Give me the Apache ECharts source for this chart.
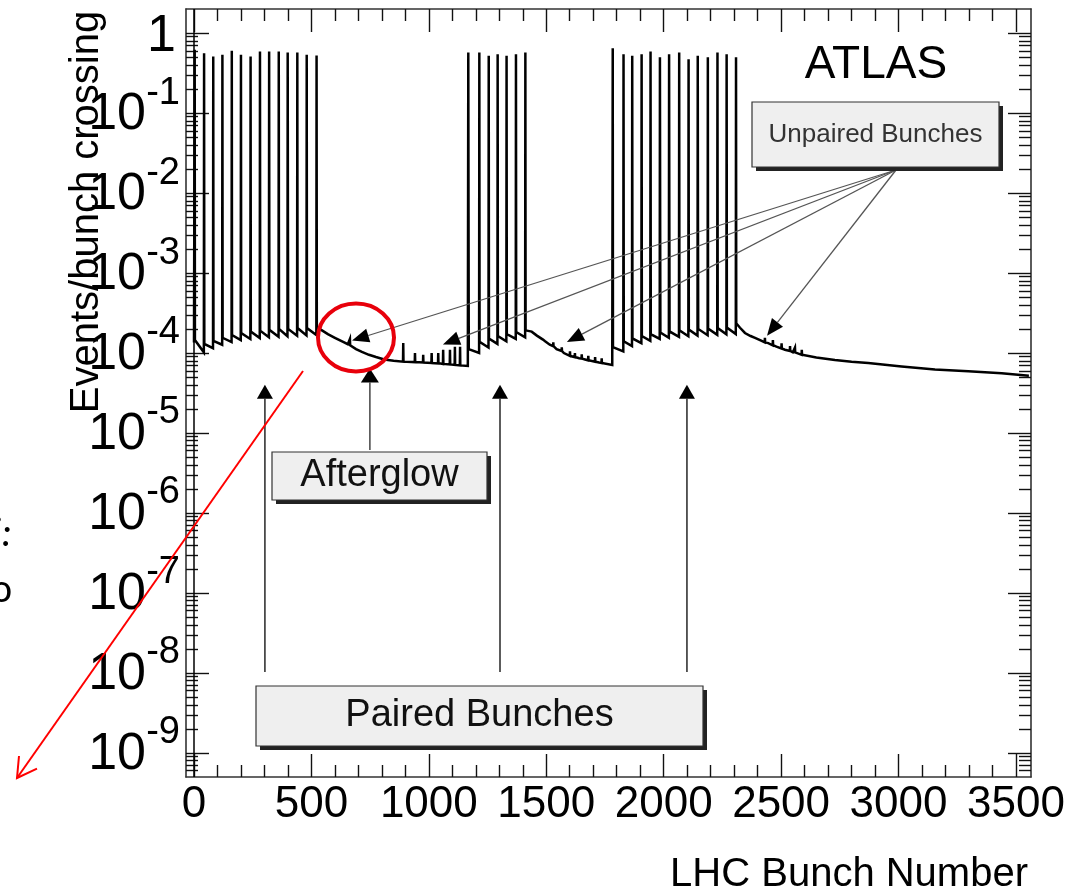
<!DOCTYPE html>
<html>
<head>
<meta charset="utf-8">
<script src="https://cdn.jsdelivr.net/npm/echarts@6/dist/echarts.min.js"></script>
<style>
  html, body { margin: 0; padding: 0; background: #fff; }
  #chart { width: 1073px; height: 896px; }
</style>
</head>
<body>
<div id="chart"></div>
<script>
// ---- axis ranges and tick labels ----
const xMin = -34, xMax = 3564;           // LHC bunch number
const yMin = 5e-10, yMax = 2;            // events per bunch crossing (log)
const xLabelValues = [0, 500, 1000, 1500, 2000, 2500, 3000, 3500];
const yLabelExponents = [-9, -8, -7, -6, -5, -4, -3, -2, -1, 0];

// ---- paired (colliding) bunches: [bunch, bin before, peak, bin after, next-bin shoulder] ----
const pairedTrain1 = [
  [3, 1.35e-4, 0.62, 1.45e-4],
  [43, 1.02e-4, 0.56, 1.30e-4],
  [82, 1.15e-4, 0.51, 1.42e-4],
  [121, 1.27e-4, 0.535, 1.55e-4],
  [161, 1.37e-4, 0.60, 1.68e-4],
  [200, 1.45e-4, 0.535, 1.78e-4],
  [241, 1.50e-4, 0.51, 1.85e-4],
  [281, 1.54e-4, 0.59, 1.90e-4],
  [320, 1.57e-4, 0.59, 1.95e-4],
  [361, 1.60e-4, 0.59, 2.00e-4],
  [399, 1.62e-4, 0.57, 2.00e-4, 5.1e-3],
  [440, 1.64e-4, 0.57, 2.05e-4],
  [480, 1.66e-4, 0.535, 2.05e-4],
  [522, 1.68e-4, 0.525, 2.10e-4]
];
const pairedTrain2 = [
  [1168, 6.8e-5, 0.57, 1.12e-4, 5.6e-3],
  [1215, 1.00e-4, 0.57, 1.38e-4],
  [1255, 1.17e-4, 0.52, 1.52e-4],
  [1293, 1.30e-4, 0.545, 1.63e-4],
  [1331, 1.40e-4, 0.52, 1.73e-4],
  [1371, 1.50e-4, 0.545, 1.83e-4],
  [1411, 1.57e-4, 0.57, 1.92e-4]
];
const pairedTrain3 = [
  [1783, 7.1e-5, 0.645, 1.18e-4],
  [1829, 1.05e-4, 0.545, 1.40e-4],
  [1866, 1.22e-4, 0.52, 1.52e-4],
  [1906, 1.33e-4, 0.545, 1.63e-4],
  [1944, 1.42e-4, 0.59, 1.72e-4],
  [1984, 1.50e-4, 0.50, 1.80e-4, 4.4e-3],
  [2023, 1.55e-4, 0.545, 1.86e-4, 5.0e-3],
  [2066, 1.59e-4, 0.57, 1.92e-4],
  [2106, 1.62e-4, 0.47, 1.96e-4],
  [2145, 1.65e-4, 0.52, 2.00e-4, 4.9e-3],
  [2188, 1.67e-4, 0.50, 2.02e-4],
  [2229, 1.69e-4, 0.57, 2.05e-4],
  [2268, 1.71e-4, 0.545, 2.08e-4],
  [2308, 1.73e-4, 0.50, 2.35e-4]
];

// ---- unpaired bunches: [bunch, afterglow level, peak] ----
const unpairedGap1 = [
  [664, 1.25e-4, 1.50e-4],
  [891, 7.8e-5, 1.33e-4],
  [941, 7.7e-5, 1.00e-4],
  [976, 7.6e-5, 9.5e-5],
  [1012, 7.5e-5, 1.00e-4],
  [1040, 7.4e-5, 1.00e-4],
  [1061, 7.3e-5, 1.10e-4],
  [1090, 7.2e-5, 1.10e-4],
  [1111, 7.1e-5, 1.20e-4],
  [1133, 7.0e-5, 1.20e-4]
];
const unpairedGap2 = [
  [1494, 1.40e-4, 1.55e-4],
  [1530, 1.22e-4, 1.36e-4],
  [1566, 1.06e-4, 1.18e-4],
  [1601, 9.2e-5, 1.05e-4],
  [1622, 8.9e-5, 1.00e-4],
  [1651, 8.5e-5, 9.6e-5],
  [1679, 8.1e-5, 9.2e-5],
  [1708, 7.8e-5, 8.9e-5],
  [1736, 7.5e-5, 8.6e-5]
];
const unpairedTail = [
  [2431, 1.36e-4, 1.55e-4],
  [2465, 1.25e-4, 1.45e-4],
  [2502, 1.14e-4, 1.32e-4],
  [2538, 1.06e-4, 1.22e-4],
  [2559, 1.02e-4, 1.17e-4],
  [2588, 9.5e-5, 1.10e-4]
];

// ---- afterglow level between trains: [bunch, events/BC] ----
const afterglowStart = [[0, 1.35e-4]];
const afterglowGap1 = [
  [545, 1.92e-4], [570, 1.72e-4], [600, 1.55e-4], [635, 1.38e-4], [655, 1.29e-4],
  [690, 1.12e-4], [715, 1.03e-4], [745, 9.5e-5], [775, 8.9e-5], [810, 8.3e-5],
  [850, 8.0e-5], [950, 7.7e-5], [1050, 7.4e-5], [1166, 6.9e-5]
];
const afterglowGap2 = [
  [1438, 1.85e-4], [1460, 1.65e-4], [1486, 1.47e-4], [1515, 1.27e-4], [1544, 1.12e-4],
  [1575, 1.00e-4], [1610, 9.1e-5], [1640, 8.6e-5], [1665, 8.3e-5], [1725, 7.6e-5],
  [1781, 7.1e-5]
];
const afterglowTail = [
  [2325, 2.07e-4], [2346, 1.78e-4], [2370, 1.63e-4], [2389, 1.55e-4], [2415, 1.43e-4],
  [2445, 1.33e-4], [2480, 1.20e-4], [2516, 1.10e-4], [2550, 1.02e-4], [2595, 9.4e-5],
  [2650, 8.8e-5], [2729, 8.2e-5], [2800, 7.8e-5], [2871, 7.5e-5], [3013, 6.8e-5],
  [3155, 6.2e-5], [3297, 5.9e-5], [3439, 5.6e-5], [3555, 5.2e-5]
];

// ---- annotation targets (data coordinates) ----
const unpairedArrowTips = [[673, 1.43e-4], [1060, 1.28e-4], [1588, 1.37e-4], [2440, 1.64e-4]];
const pairedArrowTips = [[302, 4.0e-5], [1303, 4.0e-5], [2099, 4.0e-5]];
const afterglowArrowTip = [749, 6.4e-5];

// ---- assemble the per-bunch histogram outline ----
function histogramPoints() {
  const pts = [];
  const addPaired = list => list.forEach(([b, before, peak, after, shoulder]) => {
    pts.push([b - 1, before], [b, peak]);
    if (shoulder) pts.push([b + 1, shoulder], [b + 2, after]);
    else pts.push([b + 1, after]);
  });
  const addUnpaired = list => list.forEach(([b, base, peak]) => {
    pts.push([b - 1, base], [b, peak], [b + 1, base]);
  });
  addPaired(pairedTrain1); addPaired(pairedTrain2); addPaired(pairedTrain3);
  addUnpaired(unpairedGap1); addUnpaired(unpairedGap2); addUnpaired(unpairedTail);
  [afterglowStart, afterglowGap1, afterglowGap2, afterglowTail].forEach(l => l.forEach(p => pts.push(p)));
  return pts.sort((a, b) => a[0] - b[0]);
}

const FONT = 'Liberation Sans, Arial, Helvetica, sans-serif';
const xMinorTicks = [];
for (let v = 100; v < xMax; v += 100) if (v % 500 !== 0) xMinorTicks.push(v);
const yMajorTicks = yLabelExponents.map(e => Math.pow(10, e));
const yMinorTicks = [];
for (let e = -10; e <= 0; e++) for (let k = 2; k <= 9; k++) {
  const v = k * Math.pow(10, e);
  if (v > yMin && v < yMax) yMinorTicks.push(v);
}
const expOf = v => Math.round(Math.log10(v));

const tickStyle = { color: '#111', width: 1.4 };
const frameLine = { show: true, onZero: false, lineStyle: { color: '#333', width: 1.6 } };
const hiddenLine = { show: false, onZero: false };
const noLabel = { show: false };
const plotRect = { left: 186, right: 42, top: 9, bottom: 119, containLabel: false };

// decade labels: mantissa "10" (and "1") on one axis, the exponent on a twin axis
const mantissaLabels = {
  customValues: yMajorTicks, margin: 6,
  formatter: v => expOf(v) === 0 ? '{one|1}' : '{b|10}',
  rich: {
    one: { fontSize: 52, fontFamily: FONT, color: '#000', lineHeight: 52, padding: [8, 4, 0, 0] },
    b: { fontSize: 52, fontFamily: FONT, color: '#000', lineHeight: 52, padding: [4, 34, 0, 0] }
  }
};
const exponentLabels = {
  customValues: yMajorTicks.filter(v => expOf(v) !== 0), margin: 6,
  formatter: v => '{s|' + expOf(v) + '}',
  rich: {
    s: { fontSize: 38, fontFamily: FONT, color: '#000', lineHeight: 38, padding: [0, 0, 40, 0] }
  }
};

function xAxis(gridIndex, position, ticks, len, withLabels, withLine) {
  return {
    type: 'value', gridIndex, min: xMin, max: xMax, position,
    axisLine: withLine ? frameLine : hiddenLine,
    axisTick: { show: true, inside: true, length: len, customValues: ticks, lineStyle: tickStyle },
    axisLabel: withLabels ? {
      customValues: xLabelValues, fontSize: 44, color: '#000', fontFamily: FONT, margin: 6,
      formatter: v => String(v)
    } : noLabel,
    splitLine: { show: false }
  };
}
function yAxis(gridIndex, position, ticks, len, labels, withLine) {
  return {
    type: 'log', gridIndex, logBase: 10, min: yMin, max: yMax, position,
    axisLine: withLine ? frameLine : hiddenLine,
    axisTick: { show: true, inside: true, length: len, customValues: ticks, lineStyle: tickStyle },
    axisLabel: labels || noLabel,
    splitLine: { show: false }
  };
}

const chart = echarts.init(document.getElementById('chart'), null, { renderer: 'canvas' });
chart.setOption({
  animation: false,
  backgroundColor: '#fff',
  // grid 0 carries the frame, labels and decade ticks; grid 1 (same box) the minor ticks
  grid: [Object.assign({}, plotRect), Object.assign({}, plotRect)],
  xAxis: [
    xAxis(0, 'bottom', xLabelValues, 23, true, true),
    xAxis(0, 'top', xLabelValues, 23, false, true),
    xAxis(1, 'bottom', xMinorTicks, 12, false, false),
    xAxis(1, 'top', xMinorTicks, 12, false, false)
  ],
  yAxis: [
    yAxis(0, 'left', yMajorTicks, 23, mantissaLabels, true),
    yAxis(0, 'right', yMajorTicks, 23, null, true),
    yAxis(1, 'left', yMinorTicks, 12, exponentLabels, false),
    yAxis(1, 'right', yMinorTicks, 12, null, false)
  ],
  series: [{
    type: 'line',
    xAxisIndex: 0, yAxisIndex: 0,
    data: histogramPoints(),
    showSymbol: false,
    clip: true,
    lineStyle: { color: '#000', width: 2.5, join: 'miter' },
    markLine: {
      silent: true, symbol: 'none', label: { show: false },
      lineStyle: { color: '#000', width: 1.5, type: 'solid' },
      data: [{ xAxis: 0 }]
    }
  }]
});

// ---- annotations ----
const toPx = p => chart.convertToPixel({ xAxisIndex: 0, yAxisIndex: 0 }, p);

function arrow(from, to, opt) {
  const len = opt.head || 17, hw = opt.half || 7;
  const dx = to[0] - from[0], dy = to[1] - from[1];
  const d = Math.hypot(dx, dy), ux = dx / d, uy = dy / d;
  const bx = to[0] - ux * len, by = to[1] - uy * len;
  return [
    { type: 'line', silent: true, z: 20,
      shape: { x1: from[0], y1: from[1], x2: bx, y2: by },
      style: { stroke: opt.color || '#444', lineWidth: opt.width || 1.3 } },
    { type: 'polygon', silent: true, z: 21,
      shape: { points: [to, [bx - uy * hw, by + ux * hw], [bx + uy * hw, by - ux * hw]] },
      style: { fill: '#000' } }
  ];
}
function box(x, y, w, h, text, fontSize, color) {
  return [
    { type: 'rect', silent: true, z: 22, shape: { x: x + 4, y: y + 4, width: w, height: h }, style: { fill: '#222' } },
    { type: 'rect', silent: true, z: 23, shape: { x, y, width: w, height: h }, style: { fill: '#efefef', stroke: '#333', lineWidth: 1.2 } },
    { type: 'text', silent: true, z: 24, x: x + w / 2, y: y + h / 2,
      style: { text, font: fontSize + 'px ' + FONT, fill: color, align: 'center', verticalAlign: 'middle' } }
  ];
}

const g = [];
// axis titles and experiment label
g.push({ type: 'text', silent: true, x: 87, y: 212, rotation: Math.PI / 2,
  style: { text: 'Events/bunch crossing', font: '40px ' + FONT, fill: '#000', align: 'center', verticalAlign: 'middle' } });
g.push({ type: 'text', silent: true, x: 1028, y: 875,
  style: { text: 'LHC Bunch Number', font: '40px ' + FONT, fill: '#000', align: 'right', verticalAlign: 'middle' } });
g.push({ type: 'text', silent: true, x: 876, y: 65,
  style: { text: 'ATLAS', font: '46px ' + FONT, fill: '#000', align: 'center', verticalAlign: 'middle' } });

// unpaired bunches callout
const unpairedOrigin = [896, 170];
unpairedArrowTips.forEach(t => g.push(...arrow(unpairedOrigin, toPx(t), { color: '#555', width: 1.3 })));
g.push(...box(752, 102, 247, 65, 'Unpaired Bunches', 26, '#333'));

// afterglow callout
const ag = toPx(afterglowArrowTip);
g.push(...arrow([ag[0], 450], ag, { color: '#444', width: 1.5, head: 14, half: 9 }));
g.push(...box(272, 452, 215, 48, 'Afterglow', 38, '#111'));

// paired bunches callout
pairedArrowTips.forEach(t => {
  const p = toPx(t);
  g.push(...arrow([p[0], 672], p, { color: '#333', width: 1.6, head: 14, half: 8 }));
});
g.push(...box(256, 686, 447, 60, 'Paired Bunches', 38, '#111'));

// red highlight around the afterglow region and pointer
g.push({ type: 'ellipse', silent: true, z: 30, shape: { cx: 356, cy: 337.5, rx: 38, ry: 34 },
  style: { fill: 'none', stroke: '#e8000b', lineWidth: 4 } });
g.push({ type: 'line', silent: true, z: 30, shape: { x1: 303, y1: 371, x2: 17, y2: 778 },
  style: { stroke: '#f00', lineWidth: 2 } });
g.push({ type: 'polyline', silent: true, z: 30, shape: { points: [[37, 768.7], [17, 778], [19, 756]] },
  style: { stroke: '#f00', lineWidth: 2, fill: 'none' } });

// text running in from the neighbouring slide column
g.push({ type: 'text', silent: true, x: 12, y: 536,
  style: { text: 'i:', font: 'italic 40px Calibri, Carlito, ' + FONT, fill: '#000', align: 'right', verticalAlign: 'middle' } });
g.push({ type: 'text', silent: true, x: 12, y: 592,
  style: { text: 'o', font: '40px Calibri, Carlito, ' + FONT, fill: '#000', align: 'right', verticalAlign: 'middle' } });

chart.setOption({ graphic: g });
</script>
</body>
</html>
